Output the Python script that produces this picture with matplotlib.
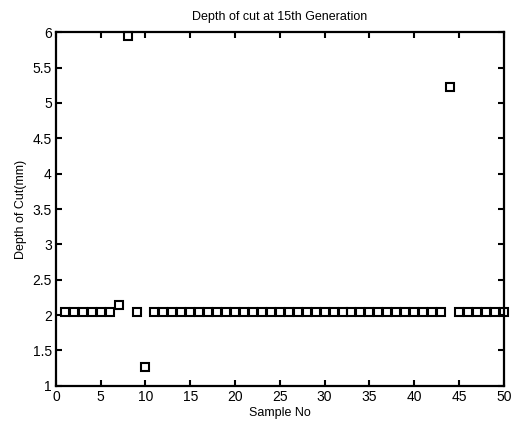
import numpy as np
import matplotlib
matplotlib.use('Agg')
import matplotlib.pyplot as plt

plt.rcParams['font.family'] = ['Liberation Sans', 'DejaVu Sans']

# Sample numbers and depth of cut values
sample_no = np.arange(1, 51)
depth = [2.04, 2.04, 2.04, 2.04, 2.04, 2.04, 2.15, 5.95, 2.04, 1.27,
         2.04, 2.04, 2.04, 2.04, 2.04, 2.04, 2.04, 2.04, 2.04, 2.04,
         2.04, 2.04, 2.04, 2.04, 2.04, 2.04, 2.04, 2.04, 2.04, 2.04,
         2.04, 2.04, 2.04, 2.04, 2.04, 2.04, 2.04, 2.04, 2.04, 2.04,
         2.04, 2.04, 2.04, 5.23, 2.04, 2.04, 2.04, 2.04, 2.04, 2.04]
x_ticks = [0, 5, 10, 15, 20, 25, 30, 35, 40, 45, 50]
y_ticks = [1, 1.5, 2, 2.5, 3, 3.5, 4, 4.5, 5, 5.5, 6]
y_labels = ['1', '1.5', '2', '2.5', '3', '3.5', '4', '4.5', '5', '5.5', '6']

fig = plt.figure(figsize=(5.13, 4.24), dpi=100)
ax = fig.add_axes([0.109, 0.09, 0.873, 0.834])

ax.plot(sample_no, depth, linestyle='none', marker='s', markersize=6.3,
        markerfacecolor='none', markeredgecolor='black', markeredgewidth=1.5,
        clip_on=False)

ax.set_xlim(0, 50)
ax.set_ylim(1, 6)
ax.set_xticks(x_ticks)
ax.set_yticks(y_ticks)
ax.set_yticklabels(y_labels)
ax.tick_params(direction='in', top=True, right=True, length=4, width=1.5,
               labelsize=10, pad=3)
for s in ax.spines.values():
    s.set_linewidth(1.6)

ax.set_title('Depth of cut at 15th Generation', fontsize=9, pad=9)
ax.set_xlabel('Sample No', fontsize=9, labelpad=2)
ax.set_ylabel('Depth of Cut(mm)', fontsize=9, labelpad=4)

fig.savefig('out.png', dpi=100)
